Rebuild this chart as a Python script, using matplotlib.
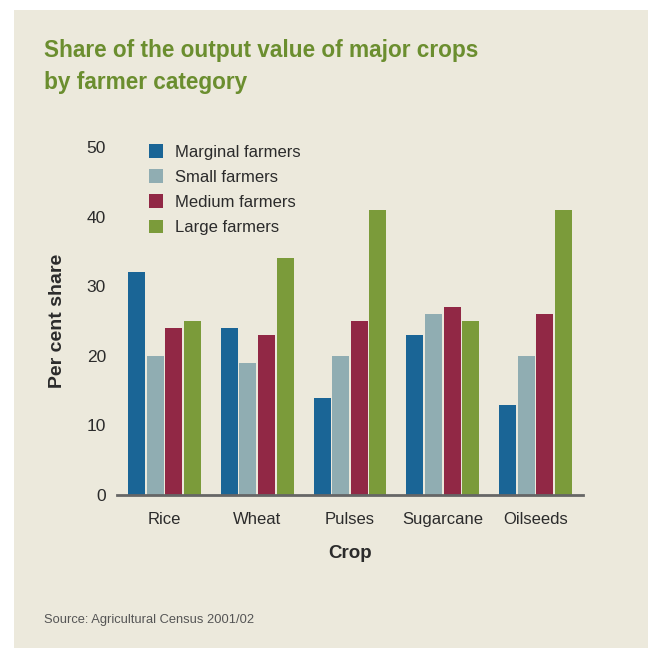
import matplotlib
matplotlib.use("Agg")
import matplotlib.pyplot as plt
import matplotlib.patches as mpatches
import numpy as np

crops = ["Rice", "Wheat", "Pulses", "Sugarcane", "Oilseeds"]
series_names = ["Marginal farmers", "Small farmers", "Medium farmers", "Large farmers"]
marginal = [32, 24, 14, 23, 13]
small = [20, 19, 20, 26, 20]
medium = [24, 23, 25, 27, 26]
large = [25, 34, 41, 25, 41]
yticks = [0, 10, 20, 30, 40, 50]

colors = ["#1a6596", "#90adb2", "#912845", "#7b9b3a"]
bg = "#ece9dc"
title_color = "#6b8e2f"
text_color = "#2b2b2b"

plt.rcParams['font.family'] = ['Liberation Sans', 'DejaVu Sans']

fig = plt.figure(figsize=(6.48, 6.48), dpi=100)
fig.patch.set_facecolor("white")
fig.patches.append(mpatches.Rectangle((14/648, 0), 1 - 14/648, 1 - 10/648,
                                      transform=fig.transFigure, facecolor=bg,
                                      edgecolor="none", zorder=-10))

ax = fig.add_axes([117/648, 1 - 495/648, (583 - 117)/648, (495 - 147)/648])
ax.set_facecolor("none")

x = np.arange(len(crops))
step = 0.201
width = 0.183
data = [marginal, small, medium, large]
for i, (vals, name, c) in enumerate(zip(data, series_names, colors)):
    ax.bar(x + (i - 1.5) * step, vals, width=width, color=c, label=name, zorder=2)

ax.set_xlim(-0.51, 4.51)
ax.set_ylim(0, 50)
ax.set_yticks(yticks)
ax.set_xticks(x)
ax.set_xticklabels(crops)
for s in ["top", "right", "left"]:
    ax.spines[s].set_visible(False)
ax.spines["bottom"].set_color("#666666")
ax.spines["bottom"].set_linewidth(2)
ax.spines["bottom"].set_zorder(3)
ax.tick_params(axis="both", length=0, labelsize=12, colors=text_color)
ax.tick_params(axis="y", labelsize=12.5, pad=8)
ax.tick_params(axis="x", pad=12)

ax.set_xlabel("Crop", fontsize=13.5, fontweight="bold", color=text_color, labelpad=13)
ax.set_ylabel("Per cent share", fontsize=14, fontweight="bold", color=text_color, labelpad=15)

leg = ax.legend(loc="upper left", bbox_to_anchor=(0.055, 1.027), frameon=False,
                fontsize=12, handlelength=0.85, handleheight=0.85, handletextpad=0.7,
                labelspacing=0.58, borderaxespad=0)
for t in leg.get_texts():
    t.set_color(text_color)

fig.text(44/648, 1 - 67/648, "Share of the output value of major crops\nby farmer category",
         fontsize=16.3, fontweight="bold", color=title_color, va="center", ha="left",
         linespacing=1.5)
fig.text(44/648, 1 - 620/648, "Source: Agricultural Census 2001/02", fontsize=9.3,
         color="#555555", va="center", ha="left")

fig.savefig("out.png", dpi=100, facecolor=fig.get_facecolor())
